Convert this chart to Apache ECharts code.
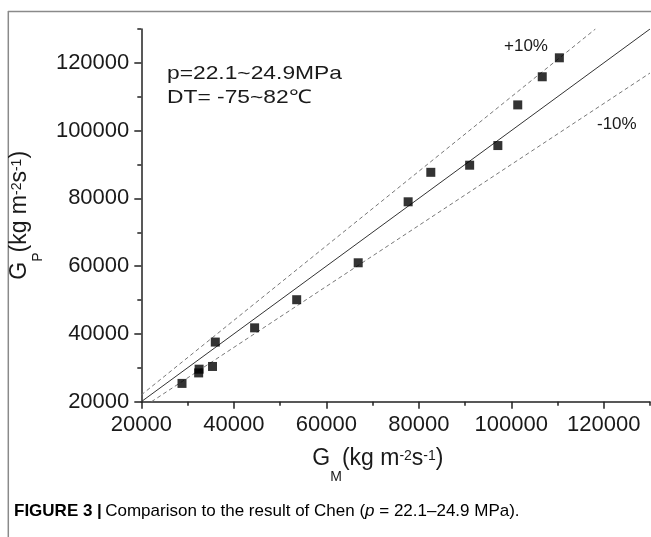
<!DOCTYPE html>
<html>
<head>
<meta charset="utf-8">
<script src="https://cdn.jsdelivr.net/npm/echarts@6/dist/echarts.min.js"></script>
<style>
html,body{margin:0;padding:0;background:#fff;}
#chart{width:651px;height:537px;}
</style>
</head>
<body>
<div id="chart"></div>
<script>
// measured mass flux G_M and predicted G_P (kg m^-2 s^-1)
const measuredG = [28800, 32400, 32500, 35400, 36000, 44500, 53600, 66900, 77700, 82600, 91000, 97100, 101400, 106700, 110400];
const predictedG = [25400, 28500, 29600, 30400, 37600, 41800, 50100, 61000, 79000, 87700, 89800, 95600, 107600, 115900, 121500];

// reference lines (endpoints)
const parityX = [20000, 130000];
const parityY = [20000, 130000];
const plus10X = [20000, 118200];
const plus10Y = [22000, 130000];
const minus10X = [22200, 130000];
const minus10Y = [20000, 117000];

// ticks
const xTicks = [20000, 40000, 60000, 80000, 100000, 120000];
const xMinorTicks = [30000, 50000, 70000, 90000, 110000, 130000];
const yTicks = [20000, 40000, 60000, 80000, 100000, 120000];
const yMinorTicks = [30000, 50000, 70000, 90000, 110000, 130000];

const FONT = '"Liberation Sans", Arial, sans-serif';
const pairs = (xs, ys) => xs.map((x, i) => [x, ys[i]]);

const richName = {
  a: { fontSize: 23, fontFamily: FONT, color: '#1a1a1a', lineHeight: 30, verticalAlign: 'top' },
  b: { fontSize: 14, fontFamily: FONT, color: '#1a1a1a', lineHeight: 14, verticalAlign: 'top', padding: [23, 0, 0, 0] },
  c: { fontSize: 14, fontFamily: FONT, color: '#1a1a1a', lineHeight: 14, verticalAlign: 'top', padding: [2, 0, 0, 0] }
};

const axisCommon = {
  type: 'value',
  min: 20000,
  max: 130000,
  interval: 20000,
  splitLine: { show: false }
};
const plainLabel = v => String(v);

const chart = echarts.init(document.getElementById('chart'), null, { renderer: 'canvas' });
chart.setOption({
  animation: false,
  backgroundColor: '#fff',
  grid: { left: 139.5, right: 1, top: 29, bottom: 135.3, containLabel: false },
  xAxis: [
    Object.assign({}, axisCommon, {
      position: 'bottom',
      name: '{a|G}{b|M}{a|(kg m}{c|-2}{a|s}{c|-1}{a|)}',
      nameLocation: 'middle',
      nameGap: 45,
      nameTextStyle: { rich: richName, padding: [0, 35.5, 0, 0] },
      axisLine: { show: true, lineStyle: { color: '#222', width: 1.5 } },
      axisTick: { show: true, inside: false, length: 7, customValues: xTicks, lineStyle: { color: '#222', width: 1.5 } },
      axisLabel: { customValues: xTicks, formatter: plainLabel, margin: 12, fontSize: 22, fontFamily: FONT, color: '#1a1a1a' }
    }),
    Object.assign({}, axisCommon, {
      position: 'bottom',
      axisLine: { show: false },
      axisTick: { show: true, inside: false, length: 4, customValues: xMinorTicks, lineStyle: { color: '#222', width: 1.5 } },
      axisLabel: { show: false }
    })
  ],
  yAxis: [
    Object.assign({}, axisCommon, {
      position: 'left',
      name: '{a|G}{b|P}{a|(kg m}{c|-2}{a|s}{c|-1}{a|)}',
      nameLocation: 'middle',
      nameRotate: 90,
      nameGap: 87.5,
      nameTextStyle: { rich: richName },
      axisLine: { show: true, lineStyle: { color: '#222', width: 1.5 } },
      axisTick: { show: true, inside: false, length: 7, customValues: yTicks, lineStyle: { color: '#222', width: 1.5 } },
      axisLabel: { customValues: yTicks, formatter: plainLabel, margin: 12, fontSize: 22, fontFamily: FONT, color: '#1a1a1a' }
    }),
    Object.assign({}, axisCommon, {
      position: 'left',
      axisLine: { show: false },
      axisTick: { show: true, inside: false, length: 4, customValues: yMinorTicks, lineStyle: { color: '#222', width: 1.5 } },
      axisLabel: { show: false }
    })
  ],
  series: [
    {
      name: 'parity', type: 'line', data: pairs(parityX, parityY), showSymbol: false, symbol: 'none',
      lineStyle: { color: '#333', width: 1 }, silent: true, z: 1
    },
    {
      name: '+10%', type: 'line', data: pairs(plus10X, plus10Y), showSymbol: false, symbol: 'none',
      lineStyle: { color: '#777', width: 1, type: [4, 3] }, silent: true, z: 1
    },
    {
      name: '-10%', type: 'line', data: pairs(minus10X, minus10Y), showSymbol: false, symbol: 'none',
      lineStyle: { color: '#777', width: 1, type: [4, 3] }, silent: true, z: 1
    },
    {
      name: 'Chen', type: 'scatter', data: pairs(measuredG, predictedG),
      symbol: 'rect', symbolSize: 9, itemStyle: { color: '#000' }, z: 3
    }
  ],
  graphic: [
    { type: 'line', shape: { x1: 8, y1: 11.5, x2: 651, y2: 11.5 }, style: { stroke: '#8a8a8a', lineWidth: 1.5 } },
    { type: 'line', shape: { x1: 8.3, y1: 11, x2: 8.3, y2: 537 }, style: { stroke: '#8a8a8a', lineWidth: 1.5 } },
    { type: 'text', x: 167, y: 73.5, scaleX: 1.2, style: { text: 'p=22.1~24.9MPa', font: '19px ' + FONT, fill: '#1a1a1a', verticalAlign: 'middle', align: 'left' } },
    { type: 'text', x: 167, y: 97.5, scaleX: 1.2, style: { text: 'DT= -75~82℃', font: '19px ' + FONT, fill: '#1a1a1a', verticalAlign: 'middle', align: 'left' } },
    { type: 'text', x: 504, y: 46.5, style: { text: '+10%', font: '17px ' + FONT, fill: '#1a1a1a', verticalAlign: 'middle', align: 'left' } },
    { type: 'text', x: 597, y: 124.5, style: { text: '-10%', font: '17px ' + FONT, fill: '#1a1a1a', verticalAlign: 'middle', align: 'left' } },
    { type: 'text', x: 14, y: 511, style: {
        text: '{b|FIGURE 3 |} {r|Comparison to the result of Chen (}{i|p}{r| = 22.1–24.9 MPa).}',
        verticalAlign: 'middle', align: 'left',
        rich: {
          b: { fontSize: 17, fontWeight: 'bold', fontFamily: FONT, color: '#111' },
          r: { fontSize: 17, fontFamily: FONT, color: '#111' },
          i: { fontSize: 17, fontStyle: 'italic', fontFamily: FONT, color: '#111' }
        }
      } }
  ]
});
</script>
</body>
</html>
